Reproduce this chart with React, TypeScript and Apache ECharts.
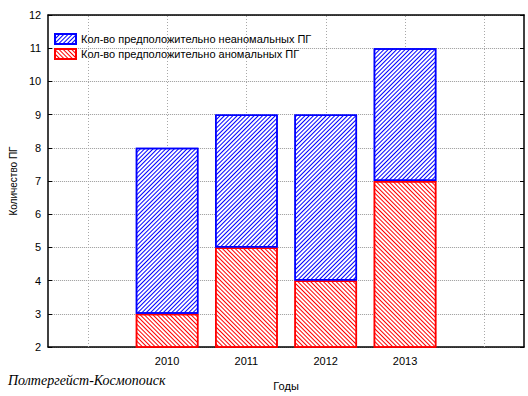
import React, { useEffect, useRef } from "react";
import * as echarts from "echarts";

const categories = ["", "2010", "2011", "2012", "2013", " "];
const anomalous = [null, 3, 5, 4, 7, null];
const nonAnomalous = [null, 5, 4, 5, 4, null];
const yTicks = [2, 3, 4, 5, 6, 7, 8, 9, 10, 11, 12];
const nameNon = "Кол-во предположительно неаномальных ПГ";
const nameAn = "Кол-во предположительно аномальных ПГ";

export default function App() {
  const ref = useRef<HTMLDivElement>(null);
  useEffect(() => {
    document.body.style.margin = "0";
    const chart = echarts.init(ref.current!, null, { renderer: "svg" });
    const font = "'Liberation Sans', Arial, sans-serif";
    const grid = { left: 45, right: 4, top: 15, bottom: 46 };
    const gridColor = "#a8a8a8";
    const yMin = yTicks[0];
    const yMax = yTicks[yTicks.length - 1];
    chart.setOption({
      animation: false,
      backgroundColor: "#fff",
      grid: { ...grid, show: false },
      legend: {
        data: [nameNon, nameAn],
        orient: "vertical",
        left: 49,
        top: 28,
        icon: "rect",
        itemWidth: 21,
        itemHeight: 10,
        itemGap: 3,
        textStyle: { fontFamily: font, fontSize: 11, color: "#000" },
      },
      xAxis: [
        {
          type: "category",
          data: categories,
          boundaryGap: true,
          axisLine: { lineStyle: { color: "#000", width: 1.5 } },
          axisTick: { inside: true, alignWithLabel: true, length: 4, lineStyle: { color: "#000" } },
          axisLabel: { fontFamily: font, fontSize: 11, color: "#000", margin: 8 },
          splitLine: { show: false },
          name: "Годы",
          nameLocation: "middle",
          nameGap: 33,
          nameTextStyle: { fontFamily: font, fontSize: 11, color: "#000" },
        },
        {
          type: "category",
          data: categories,
          position: "top",
          axisLine: { lineStyle: { color: "#000", width: 1.5 } },
          axisTick: { inside: true, alignWithLabel: true, length: 4, lineStyle: { color: "#000" } },
          axisLabel: { show: false },
          splitLine: { show: false },
        },
      ],
      yAxis: [
        {
          type: "value",
          min: yMin,
          max: yMax,
          interval: 1,
          axisLine: { show: true, lineStyle: { color: "#000", width: 1.5 } },
          axisTick: { show: true, inside: true, length: 4, lineStyle: { color: "#000" } },
          axisLabel: {
            fontFamily: font,
            fontSize: 11,
            color: "#000",
            margin: 7,
            formatter: (v: number) => (yTicks.includes(v) ? String(v) : ""),
          },
          splitLine: { show: true, lineStyle: { color: "#999999", width: 1, type: [1, 1] } },
          name: "Количество ПГ",
          nameLocation: "middle",
          nameGap: 30,
          nameTextStyle: { fontFamily: font, fontSize: 10, color: "#000" },
        },
        {
          type: "value",
          min: yMin,
          max: yMax,
          interval: 1,
          position: "right",
          axisLine: { show: true, lineStyle: { color: "#000", width: 1.5 } },
          axisTick: { show: true, inside: true, length: 4, lineStyle: { color: "#000" } },
          axisLabel: { show: false },
          splitLine: { show: false },
        },
      ],
      series: [
        {
          type: "custom",
          z: 1,
          silent: true,
          clip: false,
          data: categories.map((_, i) => [i, yMin]),
          renderItem: (params: any, api: any) => {
            const i = api.value(0);
            const p1 = api.coord([i, yMin]);
            const p2 = api.coord([i, yMax]);
            const x = Math.round(p1[0]) + 0.5;
            return {
              type: "line",
              shape: { x1: x, y1: p1[1], x2: x, y2: p2[1] },
              style: { stroke: gridColor, lineWidth: 1, lineDash: [1, 2] },
            };
          },
        },
        {
          name: nameAn,
          type: "bar",
          stack: "total",
          data: anomalous,
          barWidth: "79%",
          z: 3,
          itemStyle: {
            color: "#fff",
            borderColor: "#ff0000",
            borderWidth: 1.5,
            decal: {
              symbol: "rect",
              color: "#ff0000",
              dashArrayX: [1, 0],
              dashArrayY: [1, 2],
              rotation: Math.PI / 4,
            },
          },
        },
        {
          name: nameNon,
          type: "bar",
          stack: "total",
          data: nonAnomalous,
          barWidth: "79%",
          z: 3,
          itemStyle: {
            color: "#fff",
            borderColor: "#0000ff",
            borderWidth: 1.5,
            decal: {
              symbol: "rect",
              color: "#0000ff",
              dashArrayX: [1, 0],
              dashArrayY: [1, 2],
              rotation: -Math.PI / 4,
            },
          },
        },
      ],
      graphic: [
        {
          type: "text",
          left: 8,
          top: 373,
          style: {
            text: "Полтергейст-Космопоиск",
            font: "italic 14px 'Liberation Serif', 'Times New Roman', serif",
            fill: "#000",
          },
        },
      ],
    });
    return () => chart.dispose();
  }, []);
  return <div ref={ref} style={{ position: "absolute", left: 0, top: 0, width: 528, height: 396 }} />;
}
